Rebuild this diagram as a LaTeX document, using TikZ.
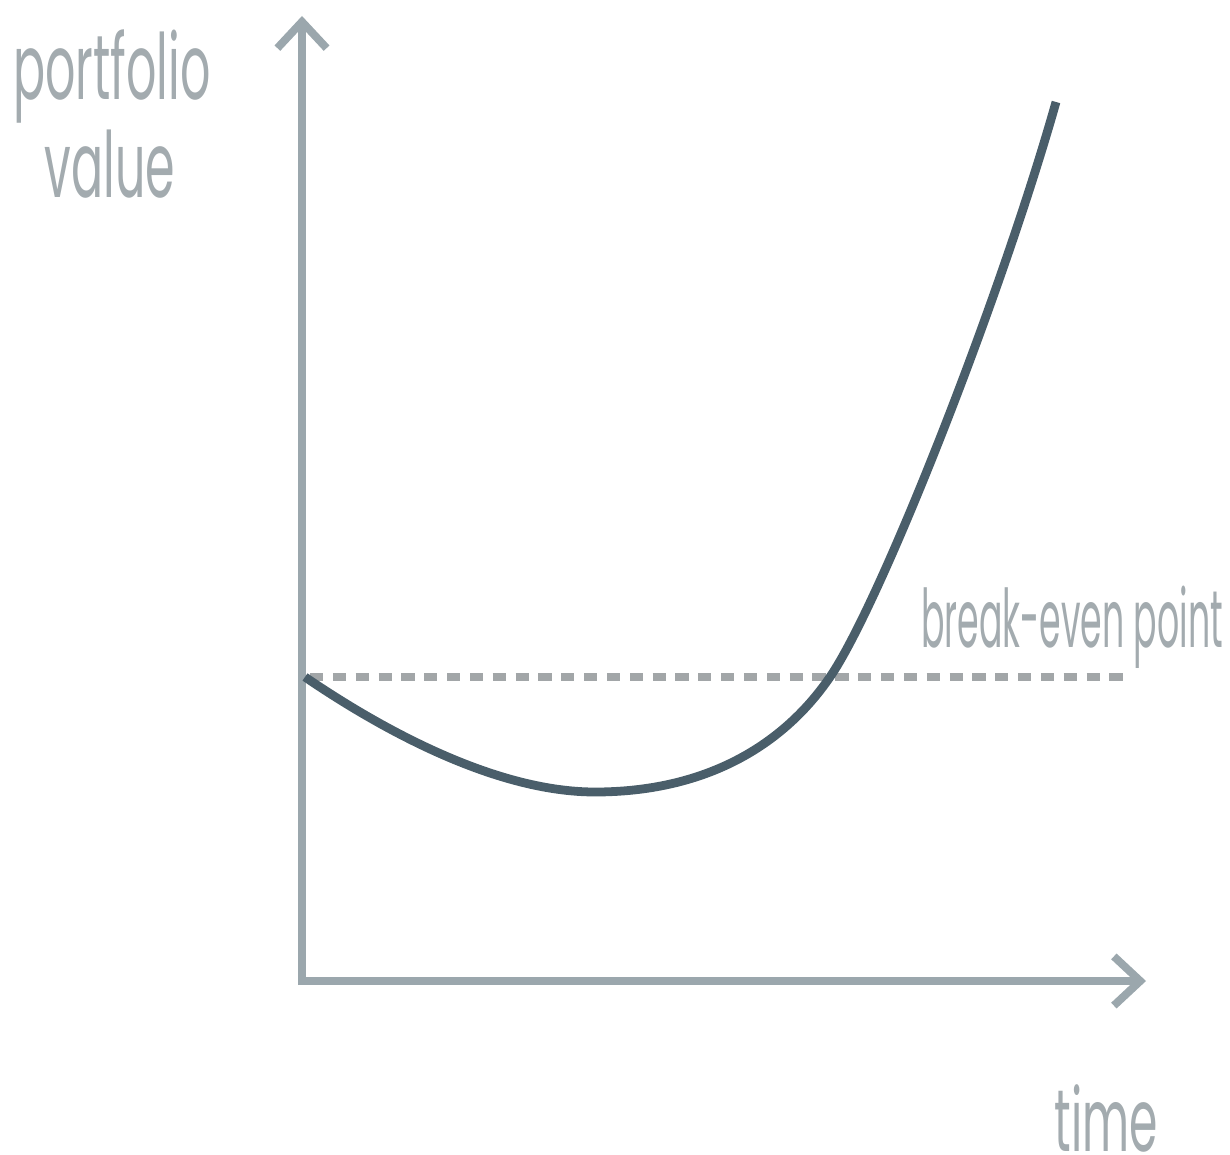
\documentclass[tikz,border=0pt]{standalone}
\usepackage{fontspec}
\usepackage{tikz}
\usetikzlibrary{arrows.meta}
\newfontfamily\axisfont[FakeStretch=0.52]{Poppins}
\newfontfamily\notefont[FakeStretch=0.43]{Poppins}
\definecolor{axisgrey}{RGB}{155,167,173}
\definecolor{dashgrey}{RGB}{162,166,168}
\definecolor{curveslate}{RGB}{74,94,106}
\definecolor{textgrey}{RGB}{163,171,175}

\begin{document}
\begin{tikzpicture}[x=0.02cm,y=-0.02cm,
    axis/.style={draw=axisgrey,line width=4.5pt,-{Straight Barb[length=15pt,width=28pt]}},
    breakeven/.style={draw=dashgrey,line width=4pt,dash pattern=on 7.5pt off 5.5pt},
    curve/.style={draw=curveslate,line width=5pt},
    lbl/.style={text=textgrey,inner sep=0pt,anchor=base}]
  \useasboundingbox (0,0) rectangle (1230,1155);
  \coordinate (origin) at (302,984);
  \coordinate (ytip) at (302,16);
  \coordinate (xtip) at (1146,981);
  \coordinate (be0) at (310,677);
  \coordinate (be1) at (1126,677);
  \coordinate (start) at (305,677);
  \coordinate (low) at (595,792);
  \coordinate (cross) at (830,677);
  \coordinate (peak) at (1056,102);

  % axes
  \draw[axis] (302,985) -- (ytip);
  \draw[axis] (298,981) -- (xtip);

  % break-even level
  \draw[breakeven] (be0) -- (be1);

  % portfolio value over time
  \draw[curve] (start) .. controls (390,735) and (500,792) .. (low)
    .. controls (700,792) and (780,750) .. (cross)
    .. controls (880,604) and (1000,300) .. (peak);

  % labels
  \node[lbl,font=\axisfont\fontsize{52}{52}\selectfont] (ylabel1) at (112,100) {portfolio};
  \node[lbl,font=\axisfont\fontsize{52}{52}\selectfont] (ylabel2) at (110,198) {value};
  \node[lbl,font=\notefont\fontsize{46}{46}\selectfont] (belabel) at (1072,647) {break-even point};
  \node[lbl,font=\axisfont\fontsize{50}{50}\selectfont] (xlabel) at (1106,1151) {time};
\end{tikzpicture}
\end{document}
